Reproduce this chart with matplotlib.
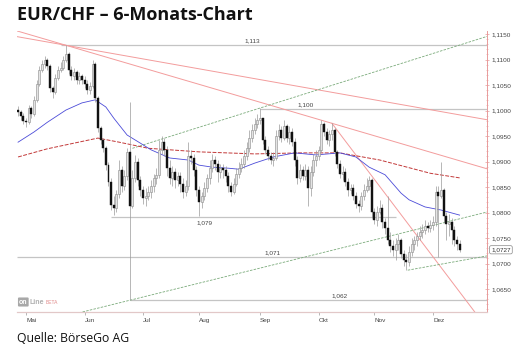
import matplotlib

matplotlib.use("Agg")

import matplotlib.pyplot as plt
import numpy as np
import pandas as pd

# daily candles EUR/CHF, 27 Apr - 15 Dec 2016
first_open = 1.1001
close = [
    1.0997, 1.0989, 1.0979, 1.0977, 1.1005, 1.0993, 1.1021, 1.1052, 1.1079, 1.1091,
    1.1099, 1.1087, 1.1044, 1.1036, 1.1064, 1.1079, 1.1083, 1.1099, 1.1111, 1.1079,
    1.1068, 1.1075, 1.1060, 1.1068, 1.1060, 1.1052, 1.1040, 1.1048, 1.1091, 1.1025,
    1.0966, 1.0942, 1.0926, 1.0893, 1.0860, 1.0815, 1.0809, 1.0836, 1.0883, 1.0852,
    1.0872, 1.0919, 1.0813, 1.0868, 1.0899, 1.0864, 1.0844, 1.0828, 1.0832, 1.0840,
    1.0852, 1.0868, 1.0874, 1.0923, 1.0938, 1.0923, 1.0887, 1.0868, 1.0879, 1.0864,
    1.0872, 1.0856, 1.0840, 1.0852, 1.0911, 1.0907, 1.0883, 1.0844, 1.0821, 1.0832,
    1.0848, 1.0868, 1.0887, 1.0903, 1.0895, 1.0879, 1.0887, 1.0883, 1.0872, 1.0852,
    1.0840, 1.0856, 1.0875, 1.0887, 1.0895, 1.0911, 1.0926, 1.0946, 1.0962, 1.0974,
    1.0981, 1.0985, 1.0942, 1.0923, 1.0911, 1.0903, 1.0907, 1.0950, 1.0962, 1.0946,
    1.0970, 1.0946, 1.0958, 1.0938, 1.0903, 1.0868, 1.0883, 1.0872, 1.0883, 1.0848,
    1.0879, 1.0903, 1.0911, 1.0923, 1.0974, 1.0958, 1.0942, 1.0954, 1.0962, 1.0919,
    1.0895, 1.0875, 1.0879, 1.0860, 1.0844, 1.0848, 1.0832, 1.0817, 1.0813, 1.0832,
    1.0844, 1.0852, 1.0864, 1.0801, 1.0785, 1.0801, 1.0809, 1.0781, 1.0770, 1.0746,
    1.0734, 1.0726, 1.0738, 1.0746, 1.0719, 1.0707, 1.0703, 1.0723, 1.0738, 1.0746,
    1.0754, 1.0762, 1.0766, 1.0774, 1.0770, 1.0775, 1.0781, 1.0840, 1.0832, 1.0844,
    1.0793, 1.0777, 1.0781, 1.0766, 1.0746, 1.0738, 1.0727,
]
high = [
    1.1009, 1.1001, 1.0995, 1.0985, 1.1011, 1.1009, 1.1028, 1.1060, 1.1087, 1.1099,
    1.1107, 1.1103, 1.1091, 1.1048, 1.1072, 1.1087, 1.1095, 1.1107, 1.1128, 1.1115,
    1.1087, 1.1083, 1.1079, 1.1075, 1.1072, 1.1068, 1.1060, 1.1056, 1.1099, 1.1095,
    1.1028, 1.0970, 1.0946, 1.0930, 1.0899, 1.0868, 1.0832, 1.0844, 1.0903, 1.0891,
    1.0883, 1.0926, 1.1017, 1.0883, 1.0913, 1.0907, 1.0872, 1.0852, 1.0848, 1.0852,
    1.0864, 1.0875, 1.0887, 1.0942, 1.0950, 1.0946, 1.0930, 1.0903, 1.0891, 1.0887,
    1.0879, 1.0879, 1.0868, 1.0864, 1.0938, 1.0923, 1.0915, 1.0891, 1.0852, 1.0840,
    1.0860, 1.0875, 1.0903, 1.0915, 1.0911, 1.0903, 1.0895, 1.0895, 1.0891, 1.0879,
    1.0860, 1.0868, 1.0887, 1.0899, 1.0907, 1.0923, 1.0938, 1.0962, 1.0974, 1.0985,
    1.0993, 1.1005, 1.0985, 1.0950, 1.0930, 1.0919, 1.0919, 1.0962, 1.0974, 1.0970,
    1.0981, 1.0974, 1.0970, 1.0966, 1.0946, 1.0911, 1.0895, 1.0891, 1.0895, 1.0891,
    1.0891, 1.0915, 1.0923, 1.0930, 1.0981, 1.0977, 1.0966, 1.0962, 1.0975, 1.0966,
    1.0923, 1.0903, 1.0891, 1.0887, 1.0868, 1.0856, 1.0856, 1.0840, 1.0825, 1.0840,
    1.0856, 1.0868, 1.0872, 1.0868, 1.0809, 1.0813, 1.0825, 1.0817, 1.0789, 1.0832,
    1.0762, 1.0746, 1.0750, 1.0758, 1.0750, 1.0726, 1.0719, 1.0734, 1.0750, 1.0754,
    1.0762, 1.0774, 1.0777, 1.0785, 1.0781, 1.0785, 1.0793, 1.0852, 1.0852, 1.0899,
    1.0848, 1.0801, 1.0797, 1.0789, 1.0774, 1.0754, 1.0746,
]
low = [
    1.0989, 1.0981, 1.0974, 1.0968, 1.0974, 1.0985, 1.0989, 1.1017, 1.1048, 1.1075,
    1.1083, 1.1079, 1.1036, 1.1025, 1.1032, 1.1060, 1.1075, 1.1079, 1.1095, 1.1072,
    1.1060, 1.1060, 1.1052, 1.1052, 1.1052, 1.1044, 1.1032, 1.1032, 1.1044, 1.1017,
    1.0958, 1.0934, 1.0919, 1.0883, 1.0852, 1.0805, 1.0795, 1.0801, 1.0828, 1.0840,
    1.0844, 1.0864, 1.0628, 1.0809, 1.0860, 1.0852, 1.0832, 1.0817, 1.0813, 1.0825,
    1.0828, 1.0840, 1.0856, 1.0868, 1.0915, 1.0911, 1.0872, 1.0856, 1.0852, 1.0848,
    1.0852, 1.0840, 1.0828, 1.0832, 1.0844, 1.0895, 1.0872, 1.0832, 1.0793, 1.0809,
    1.0825, 1.0840, 1.0856, 1.0879, 1.0883, 1.0860, 1.0868, 1.0868, 1.0860, 1.0840,
    1.0832, 1.0836, 1.0852, 1.0868, 1.0879, 1.0887, 1.0903, 1.0919, 1.0938, 1.0954,
    1.0966, 1.0974, 1.0934, 1.0915, 1.0903, 1.0895, 1.0891, 1.0903, 1.0942, 1.0938,
    1.0942, 1.0938, 1.0934, 1.0930, 1.0891, 1.0856, 1.0860, 1.0864, 1.0864, 1.0813,
    1.0832, 1.0872, 1.0891, 1.0903, 1.0919, 1.0950, 1.0934, 1.0930, 1.0942, 1.0911,
    1.0887, 1.0868, 1.0864, 1.0852, 1.0832, 1.0836, 1.0825, 1.0809, 1.0801, 1.0805,
    1.0825, 1.0840, 1.0844, 1.0789, 1.0777, 1.0774, 1.0797, 1.0770, 1.0758, 1.0738,
    1.0723, 1.0715, 1.0707, 1.0726, 1.0711, 1.0695, 1.0687, 1.0695, 1.0715, 1.0726,
    1.0734, 1.0746, 1.0750, 1.0758, 1.0762, 1.0762, 1.0766, 1.0774, 1.0713, 1.0828,
    1.0781, 1.0746, 1.0754, 1.0738, 1.0734, 1.0726, 1.0723,
]

# moving averages (trading-day index, value)
ma_fast_idx = [0, 6, 11, 18, 24, 29, 33, 36, 41, 46, 50, 57, 64, 68, 73, 79, 83, 89,
               96, 104, 112, 121, 127, 132, 138, 144, 147, 153, 159, 166]
ma_fast_val = [1.0938, 1.0958, 1.0977, 1.1001, 1.1015, 1.1021, 1.1007, 1.0985, 1.0952, 1.0936,
               1.0923, 1.0907, 1.0903, 1.0893, 1.0889, 1.0887, 1.0885, 1.0897, 1.0909, 1.0917,
               1.0913, 1.0917, 1.0909, 1.0889, 1.0874, 1.0838, 1.0825, 1.0811, 1.0805, 1.0795]
ma_slow_idx = [0, 11, 30, 38, 49, 68, 89, 106, 121, 136, 155, 166]
ma_slow_val = [1.0909, 1.0925, 1.0946, 1.0938, 1.0926, 1.0919, 1.0915, 1.0917, 1.0917, 1.0903,
               1.0877, 1.0868]

# horizontal support / resistance levels
level_val = [1.1128, 1.1003, 1.0791, 1.0713, 1.0628]
level_text = ["1,113", "1,100", "1,079", "1,071", "1,062"]
level_start = [16, 91, 35, None, 42]
level_end = [None, None, 142, None, None]
level_label_idx = [88, 108, 70, 95.5, 121]
level_label_below = [False, False, True, False, False]

# trend lines: (idx, value) anchors
red_trend = [((18, 1.1128), (177.4, 1.0981)), ((18, 1.1128), (118, 1.0975))]
red_steep = ((118, 1.0975), (172, 1.0603))
green_trend = [((43, 1.0926), (91, 1.1005), False), ((42, 1.0628), (176.3, 1.0801), True),
               ((146.5, 1.0687), (176.3, 1.0715), False)]

last_price = 1.0727
month_names = ["Mai", "Jun", "Jul", "Aug", "Sep", "Okt", "Nov", "Dez"]

dates = pd.bdate_range("2016-04-27", periods=len(close))
opens = np.r_[first_open, close[:-1]]
closes = np.asarray(close)
idx = np.arange(len(closes))

W, H = 523, 360
fig = plt.figure(figsize=(W / 100, H / 100), dpi=100, facecolor="white")
plt.rcParams["font.family"] = ["Liberation Sans", "DejaVu Sans"]
ax = fig.add_axes([17 / W, 1 - 312 / H, 470 / W, 281 / H])
x_min, x_max = -0.4, 176.3
y_min, y_max = 1.0605, 1.1156
ax.set_xlim(x_min, x_max)
ax.set_ylim(y_min, y_max)

level_color = "#c4c4c4"
for val, txt, x0, x1, lx, below in zip(level_val, level_text, level_start, level_end,
                                        level_label_idx, level_label_below):
    ax.hlines(val, x_min if x0 is None else x0, x_max if x1 is None else x1,
              color=level_color, lw=0.9, zorder=1)
    ax.annotate(txt, (lx, val), xytext=(0, -2.5 if below else 1.5), textcoords="offset points",
                ha="center", va="top" if below else "bottom", fontsize=4.6, color="#444444")

# trend lines
red_color = "#f39c9c"
for p0, p1 in red_trend:
    ax.axline(p0, p1, color=red_color, lw=0.7, zorder=2)
ax.plot([red_steep[0][0], red_steep[1][0]], [red_steep[0][1], red_steep[1][1]],
        color=red_color, lw=0.7, zorder=2)
for p0, p1, both in green_trend:
    slope = (p1[1] - p0[1]) / (p1[0] - p0[0])
    xs = np.array([x_min if both else p0[0], x_max])
    ax.plot(xs, p0[1] + slope * (xs - p0[0]), color="#7aaa7a", lw=0.6,
            ls=(0, (3, 1.5)), zorder=2)

ax.plot(ma_slow_idx, ma_slow_val, color="#c23838", lw=0.7, ls=(0, (4, 1.5)), zorder=3)
ax.plot(ma_fast_idx, ma_fast_val, color="#4b4bd8", lw=0.6, zorder=3)

# candles
up = closes >= opens
ax.vlines(idx, low, high, color="#9a9a9a", lw=0.5, zorder=4)
body_lo = np.minimum(opens, closes)
body_h = np.maximum(np.abs(closes - opens), 0.00008)
ax.bar(idx[up], body_h[up], bottom=body_lo[up], width=0.75, color="#e4e4e4",
       edgecolor="#8a8a8a", linewidth=0.4, zorder=5)
ax.bar(idx[~up], body_h[~up], bottom=body_lo[~up], width=0.75, color="#111111",
       edgecolor="#111111", linewidth=0.3, zorder=5)

# axes styling
for side in ("left", "top"):
    ax.spines[side].set_visible(False)
ax.spines["right"].set_color("#e89a9a")
ax.spines["right"].set_linestyle((0, (2, 1)))
ax.spines["right"].set_linewidth(0.7)
ax.spines["bottom"].set_color("#e2c8c8")
ax.spines["bottom"].set_linewidth(0.9)

ax.yaxis.tick_right()
yt = np.arange(1.065, 1.1151, 0.005)
ax.set_yticks(yt)
ax.set_yticklabels([f"{v:.4f}".replace(".", ",") for v in yt])
ax.set_yticks(np.arange(1.061, 1.1156, 0.001), minor=True)
ax.tick_params(axis="y", which="major", direction="inout", length=3, width=0.5,
               color="#e89a9a", labelsize=4.6, labelcolor="#444444", pad=1.5)
ax.tick_params(axis="y", which="minor", direction="inout", length=1.5, width=0.4,
               color="#e89a9a")

month_idx = [i for i in range(len(dates)) if i > 0 and dates[i].month != dates[i - 1].month]
ax.set_xticks(month_idx)
ax.set_xticklabels(month_names, ha="left")
ax.tick_params(axis="x", direction="out", length=2.5, width=0.5, color="#9a9a9a",
               labelsize=4.6, labelcolor="#444444", pad=1.5)

# current price box
ax.annotate(f"{last_price:.4f}".replace(".", ","), (1, last_price),
            xycoords=("axes fraction", "data"), xytext=(3, 0), textcoords="offset points",
            ha="left", va="center", fontsize=4.6, color="#333333",
            bbox=dict(boxstyle="round,pad=0.25", fc="white", ec="#888888", lw=0.5))

# title and source
fig.text(17 / W, 1 - 15 / H, "EUR/CHF – 6-Monats-Chart", ha="left", va="center",
         fontsize=13, fontweight="bold", family=["Open Sans", "DejaVu Sans"], color="#111111")
fig.text(17 / W, 1 - 338 / H, "Quelle: BörseGo AG", ha="left", va="center",
         fontsize=8.8, family=["Open Sans", "DejaVu Sans"], color="#111111")

# small provider logo
fig.text(19 / W, 1 - 302 / H, "on", ha="left", va="center", fontsize=5, color="white",
         fontweight="bold", bbox=dict(boxstyle="round,pad=0.15", fc="#a8a8a8", ec="none"))
fig.text(30 / W, 1 - 302 / H, "Line", ha="left", va="center", fontsize=5, color="#b0b0b0",
         fontweight="bold")
fig.text(46 / W, 1 - 302 / H, "BETA", ha="left", va="center", fontsize=3.5, color="#e08888")

fig.savefig("out.png", dpi=100, facecolor="white")
